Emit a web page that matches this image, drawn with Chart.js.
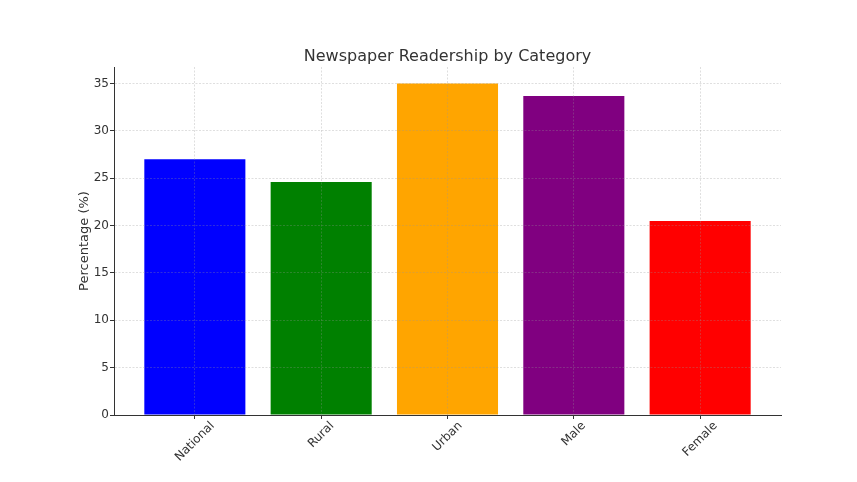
<!DOCTYPE html>
<html>
<head>
<meta charset="utf-8">
<script src="https://cdn.jsdelivr.net/npm/chart.js@4.4.0/dist/chart.umd.min.js"></script>
<style>
  html, body { margin: 0; padding: 0; background: #fff; }
  #wrap { width: 857px; height: 482px; }
</style>
</head>
<body>
<div id="wrap"><canvas id="chart" width="857" height="482"></canvas></div>
<script>
// data
const categories = ['National', 'Rural', 'Urban', 'Male', 'Female'];
const readership = [27.0, 24.6, 35.0, 33.7, 20.5];
const barColors = ['blue', 'green', 'orange', 'purple', 'red'];
const yTicks = [0, 5, 10, 15, 20, 25, 30, 35];
const chartTitle = 'Newspaper Readership by Category';

const FONT = "'DejaVu Sans', sans-serif";
const TEXT = '#333';
const GRID = 'rgba(150,150,150,0.3)';

// title over the plot area and rotated category labels centred under each bar
const extraText = {
  id: 'extraText',
  afterDraw(chart) {
    const ctx = chart.ctx;
    const area = chart.chartArea;
    const xs = chart.scales.x;
    ctx.save();
    ctx.fillStyle = TEXT;
    ctx.textAlign = 'center';
    ctx.textBaseline = 'middle';

    ctx.font = '16px ' + FONT;
    ctx.fillText(chartTitle, (area.left + area.right) / 2, area.top - 10);

    ctx.font = '12px ' + FONT;
    categories.forEach((label, i) => {
      const w = ctx.measureText(label).width;
      const half = (w + 11) / (2 * Math.SQRT2);
      const x = xs.getPixelForValue(i);
      const y = area.bottom + 5 + half;
      ctx.save();
      ctx.translate(x, y);
      ctx.rotate(-Math.PI / 4);
      ctx.fillText(label, 0, 0);
      ctx.restore();
    });
    ctx.restore();
  }
};

new Chart(document.getElementById('chart'), {
  type: 'bar',
  data: {
    datasets: [{
      data: readership.map((v, i) => ({ x: i, y: v })),
      backgroundColor: barColors,
      borderWidth: 0,
      categoryPercentage: 1,
      barPercentage: 0.8
    }]
  },
  options: {
    responsive: false,
    animation: false,
    layout: { padding: { top: 67, right: 76, left: 0, bottom: 0 } },
    plugins: {
      legend: { display: false },
      tooltip: { enabled: false },
      title: { display: false }
    },
    scales: {
      x: {
        type: 'linear',
        offset: false,
        min: -0.64,
        max: 4.64,
        afterBuildTicks: axis => { axis.ticks = categories.map((c, i) => ({ value: i })); },
        afterFit: axis => { axis.height = 67; },
        ticks: { display: false },
        grid: { offset: false, color: GRID, z: 1, tickLength: 4, tickColor: '#333' },
        border: { display: true, color: '#333', width: 1, z: 2, dash: [2, 1.5] }
      },
      y: {
        min: 0,
        max: 36.75,
        afterBuildTicks: axis => { axis.ticks = yTicks.map(v => ({ value: v })); },
        afterFit: axis => { axis.width = 114; },
        ticks: {
          color: TEXT,
          font: { family: FONT, size: 12 },
          padding: 1
        },
        grid: { color: GRID, z: 1, tickLength: 4, tickColor: '#333' },
        border: { display: true, color: '#333', width: 1, z: 2, dash: [2, 1.5] },
        title: {
          display: true,
          text: 'Percentage (%)',
          color: TEXT,
          font: { family: FONT, size: 13 },
          padding: { top: 77, bottom: 0 }
        }
      }
    }
  },
  plugins: [extraText]
});
</script>
</body>
</html>
